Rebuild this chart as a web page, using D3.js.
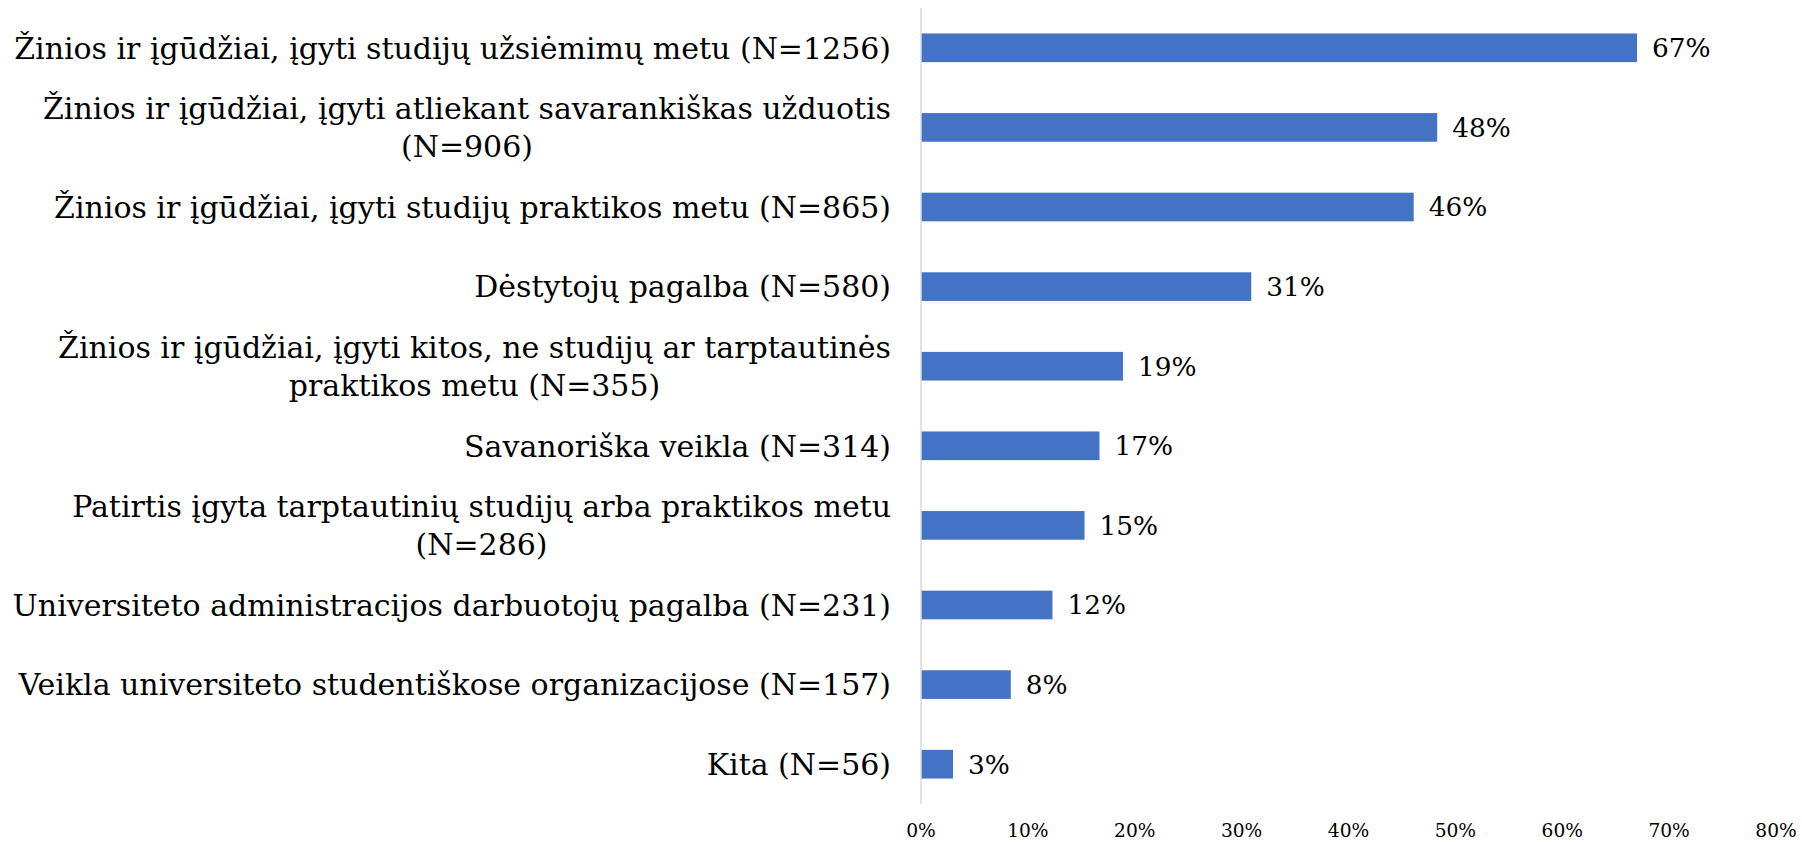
<!DOCTYPE html>
<html>
<head>
<meta charset="utf-8">
<script src="https://cdn.jsdelivr.net/npm/d3@7"></script>
<style>
  body { margin: 0; background: #fff; }
  svg text { font-family: "DejaVu Serif", Georgia, serif; }
</style>
</head>
<body>
<div id="grafikas"></div>
<script>
// kategorijos (eilutės, kaip laužomos paveikslėlyje)
const kategorijos = [
  ["Žinios ir įgūdžiai, įgyti studijų užsiėmimų metu (N=1256)"],
  ["Žinios ir įgūdžiai, įgyti atliekant savarankiškas užduotis", "(N=906)"],
  ["Žinios ir įgūdžiai, įgyti studijų praktikos metu (N=865)"],
  ["Dėstytojų pagalba (N=580)"],
  ["Žinios ir įgūdžiai, įgyti kitos, ne studijų ar tarptautinės", "praktikos metu (N=355)"],
  ["Savanoriška veikla (N=314)"],
  ["Patirtis įgyta tarptautinių studijų arba praktikos metu", "(N=286)"],
  ["Universiteto administracijos darbuotojų pagalba (N=231)"],
  ["Veikla universiteto studentiškose organizacijose (N=157)"],
  ["Kita (N=56)"]
];
const reiksmes = [67.0, 48.3, 46.1, 30.9, 18.9, 16.7, 15.3, 12.3, 8.4, 3.0];
const tikai = [0, 10, 20, 30, 40, 50, 60, 70, 80];

const width = 1802, height = 842;
const svg = d3.select("#grafikas")
  .append("svg")
  .attr("width", width)
  .attr("height", height);

const x = d3.scaleLinear().domain([0, 80]).range([921, 1776]);
const y = d3.scaleBand()
  .domain(d3.range(kategorijos.length))
  .range([8, 804])
  .paddingInner(0.64)
  .paddingOuter(0.32);

// šrifto dydis parenkamas pagal ilgiausią eilutę
const bandymas = svg.append("text").attr("font-size", 33).text(kategorijos[0][0]);
const k = 877 / bandymas.node().getComputedTextLength();
bandymas.remove();
const fKat = 33 * k, fRei = 29 * k, fTik = 20.5 * k;
const eilAukstis = 38;

// stulpeliai
svg.selectAll("rect.stulp")
  .data(reiksmes)
  .enter()
  .append("rect")
  .attr("class", "stulp")
  .attr("x", x(0))
  .attr("y", (d, i) => y(i))
  .attr("width", d => x(d) - x(0))
  .attr("height", y.bandwidth())
  .attr("fill", "#4472C4");

// ašis
svg.append("line")
  .attr("x1", x(0)).attr("x2", x(0))
  .attr("y1", 8).attr("y2", 804)
  .attr("stroke", "#d9d9d9")
  .attr("stroke-width", 1.5);

// reikšmių etiketės
svg.selectAll("text.reiksme")
  .data(reiksmes)
  .enter()
  .append("text")
  .attr("class", "reiksme")
  .attr("x", d => x(d) + 15)
  .attr("y", (d, i) => y(i) + y.bandwidth() / 2)
  .attr("dy", "0.36em")
  .attr("font-size", fRei)
  .attr("fill", "#000")
  .text(d => Math.round(d) + "%");

// kategorijų etiketės: blokas lygiuojamas dešinėje, eilutės centruojamos
const desinysKrastas = 891;
kategorijos.forEach((eil, i) => {
  const g = svg.append("g");
  const cy = y(i) + y.bandwidth() / 2;
  const t = eil.map((s, j) => g.append("text")
    .attr("font-size", fKat)
    .attr("fill", "#000")
    .attr("text-anchor", "middle")
    .attr("y", cy + (j - (eil.length - 1) / 2) * eilAukstis)
    .attr("dy", "0.36em")
    .text(s));
  const plotis = d3.max(t, n => n.node().getComputedTextLength());
  t.forEach(n => n.attr("x", desinysKrastas - plotis / 2));
});

// x ašies žymės
svg.selectAll("text.tikas")
  .data(tikai)
  .enter()
  .append("text")
  .attr("class", "tikas")
  .attr("x", d => x(d))
  .attr("y", 837)
  .attr("text-anchor", "middle")
  .attr("font-size", fTik)
  .attr("fill", "#000")
  .text(d => d + "%");
</script>
</body>
</html>
